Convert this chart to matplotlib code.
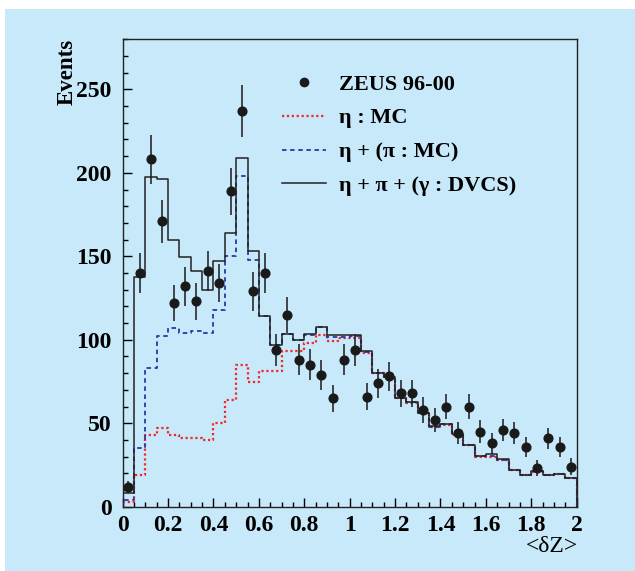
import numpy as np
import matplotlib.pyplot as plt
from matplotlib.lines import Line2D
from matplotlib.patches import Rectangle
from matplotlib.ticker import MultipleLocator

# <dZ> bins, 0.05 wide
bin_edges = np.linspace(0.0, 2.0, 41)

# ZEUS 96-00 data points
data_y = [12, 140, 208, 171, 122, 132, 123, 141, 134, 189,
          237, 129, 140, 94, 115, 88, 85, 79, 65, 88,
          94, 66, 74, 78, 68, 68, 58, 52, 60, 44,
          60, 45, 38, 46, 44, 36, 23, 41, 36, 24]
data_err = [3.5, 12, 14.5, 13, 11, 11.5, 11, 12, 11.5, 14,
            15.5, 11.5, 12, 9.7, 10.7, 9.4, 9.2, 8.9, 8, 9.4,
            9.7, 8, 8.6, 8.8, 8.2, 8.2, 7.6, 7.2, 7.7, 6.6,
            7.7, 6.7, 6.2, 6.8, 6.6, 6, 4.8, 6.4, 6, 4.9]

# eta : MC
eta_mc = [3, 19, 43, 47, 43, 41, 41, 40, 50, 64,
          85, 75, 81, 81, 93, 93, 98, 103, 99, 101,
          101, 92, 80, 77, 65, 62, 56, 48, 49, 43,
          37, 30, 30, 28, 22, 19, 21, 19, 19.5, 17]

# eta + (pi : MC)
eta_pi = [4, 35, 83, 102, 107, 104, 105, 104, 118, 150,
          198, 148, 114, 97, 103.5, 100, 103, 107.5, 101.5, 101.5,
          102, 92.5, 80, 77.5, 65, 63, 56, 48, 49.5, 43,
          37, 30.5, 30.5, 28, 22, 19, 21.3, 19, 19.7, 17]

# eta + pi + (gamma : DVCS)
total = [8, 137.5, 197.5, 196.5, 160, 149.5, 141, 130, 147, 164,
         209, 153, 114, 97, 103.5, 100, 103.3, 107.6, 103, 103,
         103, 93, 80, 77.6, 65.4, 63, 56.4, 48.4, 49.6, 43.4,
         37, 30.4, 31.4, 28.4, 22, 19, 21.4, 19.2, 19.8, 17.2]

legend_labels = ['ZEUS 96-00', 'η : MC', 'η + (π : MC)', 'η + π + (γ : DVCS)']

bg = '#c7e9f9'
serif = ['Liberation Serif', 'DejaVu Serif']
plt.rcParams['font.family'] = serif
plt.rcParams['font.weight'] = 'bold'

fig = plt.figure(figsize=(6.35, 5.71), dpi=100, facecolor='white')
fig.patches.append(Rectangle((5 / 635, 0), 630 / 635, 1 - 9 / 571,
                             transform=fig.transFigure, facecolor=bg,
                             edgecolor='none', zorder=-10))
ax = fig.add_axes([0.1932, 0.1126, 0.715, 0.8186])
ax.set_facecolor(bg)

centers = 0.5 * (bin_edges[:-1] + bin_edges[1:])

def step_line(vals, **kw):
    # closed histogram outline, dropping to zero at both ends
    xs = np.concatenate([[bin_edges[0]], bin_edges, [bin_edges[-1]]])
    ys = np.concatenate([[0], vals, [vals[-1], 0]])
    ax.step(xs, ys, where='post', **kw)

step_line(eta_mc, color='#f02828', lw=1.6, linestyle=(0, (1, 1.2)), zorder=3)
step_line(eta_pi, color='#2838a8', lw=1.3, linestyle=(0, (2.5, 2)), zorder=4)
step_line(total, color='#222222', lw=1.1, zorder=5)

ax.errorbar(centers, data_y, yerr=data_err, fmt='o', color='#1a1a1a',
            ms=6.3, elinewidth=1.1, capsize=0, zorder=6)

ax.set_xlim(0, 2)
ax.set_ylim(0, 280)
ax.xaxis.set_minor_locator(MultipleLocator(0.05))
ax.yaxis.set_major_locator(MultipleLocator(50))
ax.yaxis.set_minor_locator(MultipleLocator(10))
ax.set_xticks(np.arange(0, 2.01, 0.2))
ax.set_xticklabels(['0', '0.2', '0.4', '0.6', '0.8', '1', '1.2', '1.4', '1.6', '1.8', '2'])
ax.tick_params(which='major', direction='in', length=6.5, width=1, labelsize=17,
               top=False, right=False)
ax.tick_params(which='minor', direction='in', length=3.3, width=1, top=False, right=False)
ax.tick_params(axis='y', pad=8)
ax.tick_params(axis='x', pad=6)
for lab in ax.get_xticklabels() + ax.get_yticklabels():
    lab.set_fontweight('bold')
for sp in ax.spines.values():
    sp.set_linewidth(1.0)
    sp.set_color('#222222')

fig.text(67 / 635, 1 - 39 / 571, 'Events', rotation=90, ha='center', va='top',
         fontsize=16.5, fontweight='bold')
fig.text(552 / 635, 1 - 546 / 571, '<δZ>', ha='center', va='center',
         fontsize=17, fontweight='normal')

handles = [Line2D([], [], marker='o', ms=6, color='#1a1a1a', linestyle='none'),
           Line2D([], [], color='#f02828', lw=1.6, linestyle=(0, (1, 1.2))),
           Line2D([], [], color='#2838a8', lw=1.3, linestyle=(0, (2.5, 2))),
           Line2D([], [], color='#222222', lw=1.1)]
leg = ax.legend(handles, legend_labels, loc='upper left',
                bbox_to_anchor=((282 - 122.7) / 454, (506.7 - 74) / 467.4),
                frameon=False, fontsize=16, handlelength=2.0, handletextpad=0.55,
                labelspacing=0.6, borderaxespad=0, borderpad=0)
for t in leg.get_texts():
    t.set_fontweight('bold')

fig.savefig('out.png', dpi=100, facecolor='white')
